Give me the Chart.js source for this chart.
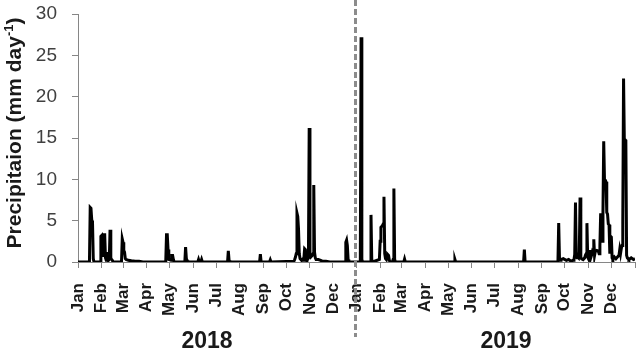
<!DOCTYPE html>
<html>
<head>
<meta charset="utf-8">
<script src="https://cdn.jsdelivr.net/npm/chart.js@4.4.0/dist/chart.umd.min.js"></script>
<style>
    html, body { margin: 0; padding: 0; background: #fff; }
    #wrap { width: 640px; height: 353px; }
</style>
</head>
<body>
<div id="wrap"><canvas id="rain-chart" width="640" height="353"></canvas></div>
<script>
// day index counted from 1 Jan 2018, daily precipitation in mm
var days2018 = [0,
    15, 16, 17, 18, 19, 20, 21,
    29, 30, 31, 32, 33, 34, 35, 36, 37, 38, 39, 40, 41, 42, 43, 44, 45, 46,
    57, 58, 59, 60, 61, 62, 63, 66, 70, 75, 80, 85,
    115, 116, 117, 118, 119, 122, 123, 124, 125, 126,
    140, 141, 142, 143, 144,
    157, 158, 159, 161, 162, 163,
    196, 197, 198, 199,
    238, 239, 240,
    251, 252, 253,
    283, 284, 285, 286, 287, 288, 289, 290, 291, 292, 293, 294, 295, 296, 297, 298, 299, 300,
    301, 302, 303, 304, 305, 306, 307, 308, 309, 310, 311, 312, 315, 318, 320, 325, 330,
    350, 351, 352, 353, 354, 355];
var rain2018 = [0,
    0, 6.6, 6.5, 5.1, 4.9, 0.4, 0,
    0, 3.1, 3.2, 1.0, 0.8, 3.3, 3.3, 0.5, 0.2, 0.3, 1.2, 0.2, 0.3, 3.9, 0.5, 0.3, 0.2, 0,
    0, 2.8, 2.4, 1.4, 1.2, 0.4, 0.3, 0.2, 0.15, 0.1, 0.1, 0,
    0, 3.3, 3.3, 1.5, 0.3, 0.2, 0.8, 0.8, 0.3, 0,
    0, 1.8, 0.4, 0.2, 0,
    0, 0.3, 0, 0, 0.3, 0,
    0, 1.35, 0.2, 0,
    0, 0.95, 0,
    0, 0.25, 0,
    0.1, 0.3, 0.6, 1.0, 5.9, 5.5, 4.0, 1.0, 0.4, 0.3, 0.2, 0.3, 0.2, 0.4, 1.6, 1.5, 0.3, 0.2,
    0.3, 0.5, 16.2, 0.8, 0.6, 0.7, 0.8, 1.0, 9.3, 1.2, 0.5, 0.3, 0.3, 0.2, 0.1, 0.1, 0,
    0, 2.4, 2.65, 2.0, 0.3, 0];

var days2019 = [365,
    370, 371, 372, 373,
    383, 384, 385, 386,
    395, 396, 397, 398, 399, 400, 401, 402, 403, 404, 405, 406, 407, 408, 409,
    412, 413, 414, 415, 416,
    427, 428, 429,
    493, 494, 495,
    584, 585, 586,
    629, 630, 631, 632, 633, 636, 640, 643, 646, 649, 650, 651, 652, 653, 654, 655, 656, 657, 658, 659, 660,
    662, 664, 665, 666, 667, 668, 669, 670, 671, 672, 673, 674, 675, 676, 677, 678, 680, 682, 683, 684,
    685, 686, 687, 688, 689, 690, 691, 692, 693, 694, 695, 696, 697, 698, 699, 700, 701, 703, 705, 707, 709,
    710, 711, 712, 713, 714, 715, 716, 717, 718, 719, 720, 721, 722, 725, 728, 730];
var rain2019 = [0,
    0, 27.2, 0.3, 0,
    0, 5.7, 0.3, 0,
    0.3, 2.5, 4.2, 4.3, 4.4, 4.6, 7.9, 1.0, 0.4, 0.3, 0.8, 0.9, 0.8, 0.2, 0,
    0, 0.3, 8.9, 0.3, 0,
    0, 0.35, 0,
    0, 0.3, 0,
    0, 1.5, 0,
    0, 4.7, 0.5, 0.2, 0.3, 0.4, 0.2, 0.3, 0.1, 0.2, 0.3, 0.9, 7.2, 0.8, 0.5, 0.6, 0.5, 1.2, 7.8, 0.5, 0.4,
    0.3, 0.5, 0.8, 1.0, 4.7, 0.6, 0.4, 1.0, 1.45, 0.5, 0.8, 1.2, 1.0, 2.75, 0.8, 1.3, 1.4, 1.3, 1.0, 2.0,
    5.9, 3.5, 2.5, 6.0, 14.6, 10.0, 9.9, 9.7, 6.0, 5.8, 4.6, 4.5, 1.0, 3.1, 3.0, 0.5, 0.3, 0.6, 0.4, 0.6, 0.8,
    1.5, 1.0, 1.6, 2.0, 5.0, 22.2, 14.8, 14.8, 14.7, 0.8, 0.5, 0.4, 0.3, 0.5, 0.3, 0.4];

var monthStarts = [0, 31, 59, 90, 120, 151, 181, 212, 243, 273, 304, 334,
    365, 396, 424, 455, 485, 516, 546, 577, 608, 638, 669, 699, 730];
var monthNames = ["Jan", "Feb", "Mar", "Apr", "May", "Jun", "Jul", "Aug", "Sep", "Oct", "Nov", "Dec"];
var years = ["2018", "2019"];
var yearBreak = 365;

var points = [];
days2018.concat(days2019).forEach(function (d, i) {
    points.push({ x: d, y: rain2018.concat(rain2019)[i] });
});

var fontName = "'Liberation Sans', Arial, sans-serif";

// extra text: axis title with superscript, year labels, dashed year divider
var extras = {
    id: "extras",
    afterDraw: function (chart) {
        var ctx = chart.ctx;
        var xs = chart.scales.x;

        // divider between the two years
        var bx = xs.getPixelForValue(yearBreak) - 1;
        ctx.save();
        ctx.strokeStyle = "#8c8c8c";
        ctx.lineWidth = 3;
        ctx.setLineDash([6, 3]);
        ctx.beginPath();
        ctx.moveTo(bx, 0);
        ctx.lineTo(bx, 337);
        ctx.stroke();
        ctx.restore();

        // year labels
        ctx.save();
        ctx.fillStyle = "#1a1a1a";
        ctx.font = "bold 23px " + fontName;
        ctx.textAlign = "center";
        ctx.textBaseline = "alphabetic";
        ctx.fillText(years[0], 207, 348);
        ctx.fillText(years[1], 506, 348);
        ctx.restore();

        // y axis title
        var main = "Precipitaion (mm day";
        var sup = "-1";
        var tail = ")";
        ctx.save();
        ctx.fillStyle = "#1a1a1a";
        ctx.translate(21, 133);
        ctx.rotate(-Math.PI / 2);
        ctx.textBaseline = "alphabetic";
        ctx.textAlign = "left";
        ctx.font = "bold 21px " + fontName;
        var wMain = ctx.measureText(main).width;
        var wTail = ctx.measureText(tail).width;
        ctx.font = "bold 13px " + fontName;
        var wSup = ctx.measureText(sup).width;
        var start = -(wMain + wSup + wTail) / 2;
        ctx.font = "bold 21px " + fontName;
        ctx.fillText(main, start, 0);
        ctx.fillText(tail, start + wMain + wSup, 0);
        ctx.font = "bold 13px " + fontName;
        ctx.fillText(sup, start + wMain, -8);
        ctx.restore();
    }
};

var ctx1 = document.getElementById("rain-chart").getContext("2d");
var rainChart = new Chart(ctx1, {
    type: "line",
    data: {
        datasets: [{
            data: points,
            borderColor: "#000",
            borderWidth: 3,
            pointRadius: 0,
            tension: 0,
            fill: false
        }]
    },
    options: {
        responsive: false,
        animation: false,
        layout: { padding: { top: 14, right: 5, left: 0, bottom: 0 } },
        plugins: {
            legend: { display: false },
            tooltip: { enabled: false }
        },
        scales: {
            x: {
                type: "linear",
                min: 0,
                max: 730,
                afterBuildTicks: function (scale) {
                    scale.ticks = monthStarts.map(function (v) { return { value: v }; });
                },
                afterFit: function (scale) {
                    scale.height = 91;
                    scale.paddingLeft = 0;
                    scale.paddingRight = 0;
                },
                grid: { drawOnChartArea: false, tickLength: 6, color: "#868686" },
                border: { color: "#868686", width: 1 },
                ticks: {
                    autoSkip: false,
                    minRotation: 90,
                    maxRotation: 90,
                    padding: 15,
                    color: "#1a1a1a",
                    font: { family: fontName, size: 17, weight: "bold" },
                    callback: function (v, i) {
                        return i < 24 ? monthNames[i % 12] : "";
                    }
                }
            },
            y: {
                min: 0,
                max: 30,
                afterFit: function (scale) {
                    scale.width = 78;
                    scale.paddingTop = 0;
                    scale.paddingBottom = 0;
                },
                grid: { drawOnChartArea: false, tickLength: 6, color: "#868686" },
                border: { color: "#868686", width: 1 },
                ticks: {
                    stepSize: 5,
                    padding: 15,
                    color: "#404040",
                    font: { family: fontName, size: 19 }
                }
            }
        }
    },
    plugins: [extras]
});
</script>
</body>
</html>
